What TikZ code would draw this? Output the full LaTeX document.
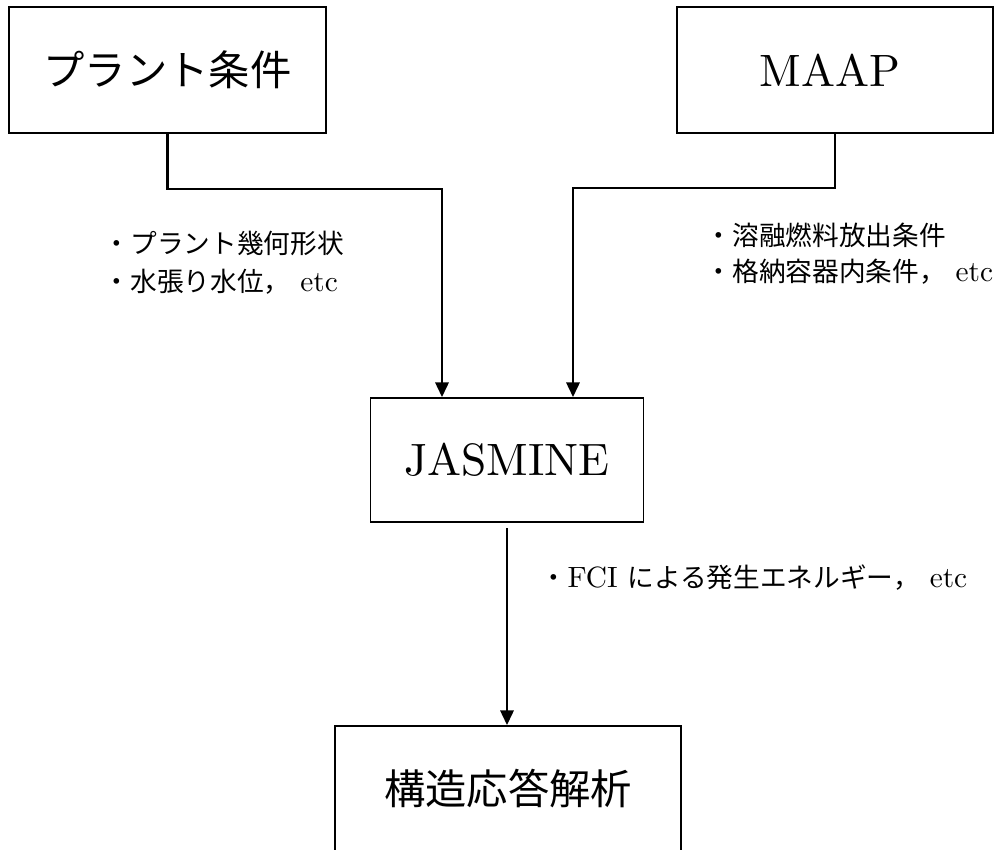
\documentclass[tikz,border=0pt]{standalone}
\usepackage{fontspec}
\setmainfont{lmroman10-regular}[Extension=.otf]
\newfontfamily\jp{Noto Sans CJK JP}
\newcommand{\lat}[1]{{\fontsize{22}{24}\selectfont #1}}
\usetikzlibrary{positioning,arrows.meta}
\tikzset{every picture/.style={line width=1.4pt}}
\tikzset{
  block/.style={draw, rectangle, inner sep=0pt, line width=1.4pt},
  big/.style={font=\fontsize{31}{36}\selectfont},
  bigl/.style={font=\fontsize{34}{40}\selectfont},
  conn/.style={line width=1.7pt, -{Triangle[length=11pt,width=10pt]}},
  note/.style={anchor=west, inner sep=0pt, font=\fontsize{20}{24}\selectfont}
}

\begin{document}
\begin{tikzpicture}[x=0.75pt,y=-0.75pt]
\useasboundingbox (0,0) rectangle (998,849);
% boxes
\node[block, big, minimum width=237.75pt, minimum height=94.5pt] (plant) at (167.5,70) {\jp プラント条件};
\node[block, bigl, minimum width=237pt, minimum height=94.5pt] (maap) at (835,70) {\hspace*{-8pt}MAAP};
\node[block, bigl, minimum width=204.75pt, minimum height=93pt] (jasmine) at (507,460) {JASMINE};
\node[block, big, minimum width=259.5pt, minimum height=94.5pt] (kozo) at (508,789) {\jp 構造応答解析};
%
% data passed along
\node[note] (geom) at (103,243) {\jp ・プラント幾何形状};
\node[note] (water) at (103,282) {{\jp ・水張り水位，}\lat{\ etc}};
\node[note] (melt) at (705,235) {\jp ・溶融燃料放出条件};
\node[note] (pcv) at (705,272) {{\jp ・格納容器内条件，}\lat{\ etc}};
\node[note] (fci) at (540,578) {{\jp ・}\lat{FCI }{\jp による発生エネルギー，}\lat{\ etc}};
%
\draw[conn] (plant.south) -- ++(0,55) -| ([xshift=-48.75pt]jasmine.north);
\draw[conn] (maap.south) -- ++(0,54) -| ([xshift=49.5pt]jasmine.north);
\draw[conn, shorten <=4pt] (jasmine.south) -- (jasmine.south |- kozo.north);
\end{tikzpicture}
\end{document}
